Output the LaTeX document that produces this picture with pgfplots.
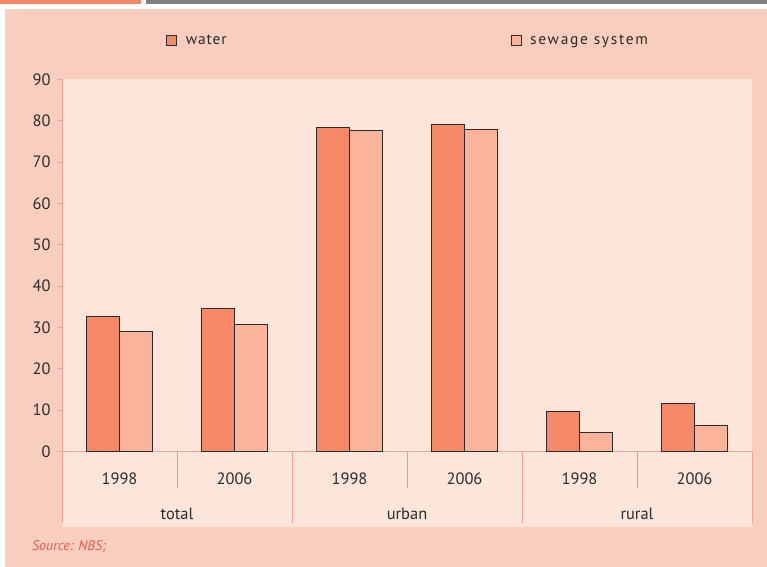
\documentclass[border=0pt]{standalone}
\usepackage{fontspec}
\setmainfont{PT Sans}
\usepackage{pgfplots}
\pgfplotsset{compat=1.18}

\definecolor{bgpeach}{HTML}{F8CEBE}
\definecolor{plotbg}{HTML}{FCE5DB}
\definecolor{waterC}{HTML}{F58866}
\definecolor{sewageC}{HTML}{F9B49B}
\definecolor{axpink}{HTML}{F2A09B}
\definecolor{sepgray}{HTML}{BCA8A2}
\definecolor{txt}{HTML}{2B2B2B}
\definecolor{srcred}{HTML}{EE5A50}
\definecolor{topgray}{HTML}{808084}

\begin{document}
\begin{tikzpicture}[x=1bp, y=1bp]
% page frame
\fill[white] (0,0) rectangle (767,567);
\fill[bgpeach] (5,0) rectangle (767,558);
\fill[waterC] (0,563) rectangle (141,567);
\fill[topgray] (146,563) rectangle (767,567);
\fill[plotbg] (62,40) rectangle (752,487.5);

\begin{axis}[
    at={(62bp,115.5bp)}, anchor=south west,
    scale only axis, width=690bp, height=372bp,
    xmin=-0.5, xmax=5.5, ymin=0, ymax=90,
    clip=false,
    ybar=0pt, bar width=33bp,
    axis x line*=bottom, axis y line*=left,
    axis line style={axpink, line width=0.8bp},
    ytick={0,10,...,90},
    y tick style={axpink, line width=0.8bp},
    tick align=outside, major tick length=5bp,
    xtick={0,...,5},
    xticklabels={1998,2006,1998,2006,1998,2006},
    x tick style={draw=none},
    /pgf/number format/assume math mode=true,
    tick label style={font=\fontsize{16.5}{19}\selectfont, text=txt},
    yticklabel style={xshift=-3bp},
    xticklabel style={yshift=-13bp},
    legend columns=2,
    legend style={at={(0.151,1.106)}, anchor=west, draw=none, fill=none,
        inner sep=0pt, font=\fontsize{15.5}{18}\selectfont\addfontfeature{LetterSpace=6},
        text=txt, nodes={inner sep=2bp},
        /tikz/every even column/.append style={column sep=282bp}},
    legend image code/.code={
        \draw[#1, line width=0.9bp] (0bp,-5bp) rectangle (10bp,5bp);
        \path[draw=none] (0bp,0bp) -- (17bp,0bp);},
]
\addplot[fill=waterC, draw=txt, line width=1bp]
    coordinates {(0,32.7) (1,34.6) (2,78.4) (3,79.0) (4,9.6) (5,11.5)};
\addplot[fill=sewageC, draw=txt, line width=1bp]
    coordinates {(0,29.1) (1,30.8) (2,77.7) (3,77.9) (4,4.5) (5,6.3)};
\legend{water, {\addfontfeature{LetterSpace=11}sewage system}}

% category separators
\draw[sepgray, line width=0.7bp] (axis cs:0.5,0) -- ++(0pt,-37bp);
\draw[sepgray, line width=0.7bp] (axis cs:2.5,0) -- ++(0pt,-37bp);
\draw[sepgray, line width=0.7bp] (axis cs:4.5,0) -- ++(0pt,-37bp);
\draw[axpink, line width=0.7bp] (axis cs:-0.5,0) -- ++(0pt,-72bp);
\draw[axpink, line width=0.7bp] (axis cs:1.5,0) -- ++(0pt,-72bp);
\draw[axpink, line width=0.7bp] (axis cs:3.5,0) -- ++(0pt,-72bp);
\draw[axpink, line width=0.7bp] (axis cs:5.5,0) -- ++(0pt,-72bp);
\node[txt, font=\fontsize{16.5}{19}\selectfont] at ([yshift=-62bp]axis cs:0.5,0) {total};
\node[txt, font=\fontsize{16.5}{19}\selectfont] at ([yshift=-62bp]axis cs:2.5,0) {urban};
\node[txt, font=\fontsize{16.5}{19}\selectfont] at ([yshift=-62bp]axis cs:4.5,0) {rural};
\end{axis}

\node[srcred, anchor=west, inner sep=0pt, font=\fontsize{14}{16}\selectfont\itshape] at (32,20) {Source: NBS;};
\end{tikzpicture}
\end{document}
